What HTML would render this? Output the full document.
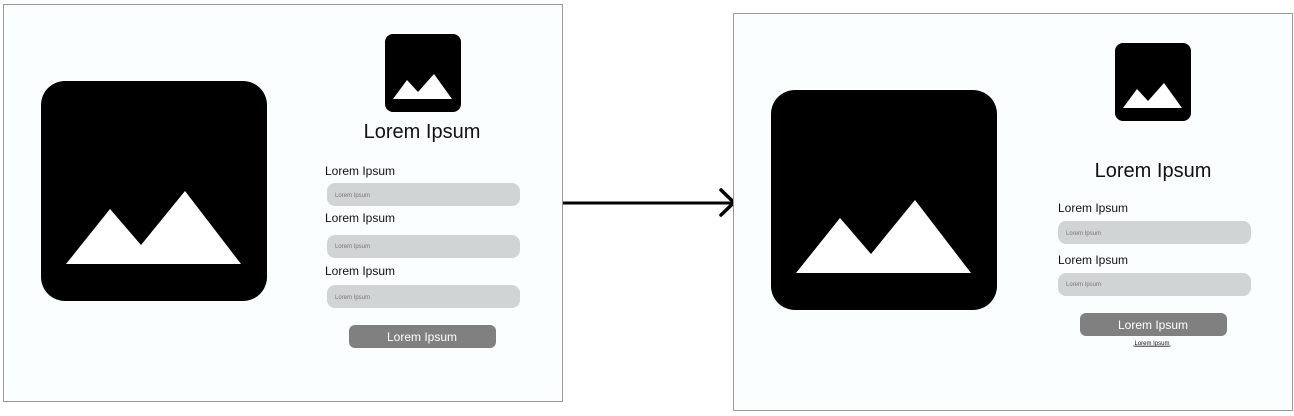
<!DOCTYPE html>
<html><head><meta charset="utf-8"><style>
html,body{margin:0;padding:0;background:#fff;width:1294px;height:416px;overflow:hidden}
text{font-family:"Liberation Sans",sans-serif}
</style></head><body>
<svg width="1294" height="416" viewBox="0 0 1294 416" xmlns="http://www.w3.org/2000/svg">
<!-- left frame -->
<rect x="3.5" y="4.5" width="559" height="397" fill="#fbfefe" stroke="#999" stroke-width="1"/>
<rect x="41" y="81" width="226" height="220" rx="24" fill="#000"/>
<polygon points="66,264 110,209 141,245 185,191 241,264" fill="#fff"/>
<rect x="385" y="34" width="76" height="78" rx="8" fill="#000"/>
<polygon points="393,99 407,80 418,92 434,74 452,99" fill="#fff"/>
<text x="422" y="138" font-size="20" text-anchor="middle" fill="#111">Lorem Ipsum</text>
<text x="325" y="175" font-size="12" fill="#111">Lorem Ipsum</text>
<rect x="327" y="183" width="193" height="23" rx="8" fill="#d0d4d4"/>
<text x="335" y="197" font-size="6" fill="#777">Lorem  Ipsum</text>
<text x="325" y="222" font-size="12" fill="#111">Lorem Ipsum</text>
<rect x="327" y="235" width="193" height="23" rx="8" fill="#d0d4d4"/>
<text x="335" y="248" font-size="6" fill="#777">Lorem Ipsum</text>
<text x="325" y="275" font-size="12" fill="#111">Lorem Ipsum</text>
<rect x="327" y="285" width="193" height="23" rx="8" fill="#d0d4d4"/>
<text x="335" y="299" font-size="6" fill="#777">Lorem Ipsum</text>
<rect x="349" y="325" width="147" height="23" rx="6" fill="#808080"/>
<text x="422" y="341" font-size="12" text-anchor="middle" fill="#fff">Lorem Ipsum</text>
<!-- arrow -->
<line x1="563" y1="203" x2="733" y2="203" stroke="#000" stroke-width="3"/>
<polyline points="721,190 734,202.5 721,215" fill="none" stroke="#000" stroke-width="3.5" stroke-linecap="round" stroke-linejoin="round"/>
<!-- right frame -->
<rect x="733.5" y="13.5" width="559" height="397" fill="#fbfefe" stroke="#999" stroke-width="1"/>
<rect x="771" y="90" width="226" height="220" rx="24" fill="#000"/>
<polygon points="796,273 840,218 871,254 915,200 971,273" fill="#fff"/>
<rect x="1115" y="43" width="76" height="78" rx="8" fill="#000"/>
<polygon points="1123,108 1137,89 1148,101 1164,83 1182,108" fill="#fff"/>
<text x="1153" y="177" font-size="20" text-anchor="middle" fill="#111">Lorem Ipsum</text>
<text x="1058" y="212" font-size="12" fill="#111">Lorem Ipsum</text>
<rect x="1058" y="221" width="193" height="23" rx="8" fill="#d0d4d4"/>
<text x="1066" y="235" font-size="6" fill="#777">Lorem  Ipsum</text>
<text x="1058" y="264" font-size="12" fill="#111">Lorem Ipsum</text>
<rect x="1058" y="273" width="193" height="23" rx="8" fill="#d0d4d4"/>
<text x="1066" y="286" font-size="6" fill="#777">Lorem Ipsum</text>
<rect x="1080" y="313" width="147" height="23" rx="6" fill="#808080"/>
<text x="1153" y="329" font-size="12" text-anchor="middle" fill="#fff">Lorem Ipsum</text>
<text x="1152" y="345" font-size="6" text-anchor="middle" fill="#111" text-decoration="underline">Lorem Ipsum</text>
<line x1="1133" y1="346" x2="1171" y2="346" stroke="#111" stroke-width="0.6"/>
</svg>
</body></html>
